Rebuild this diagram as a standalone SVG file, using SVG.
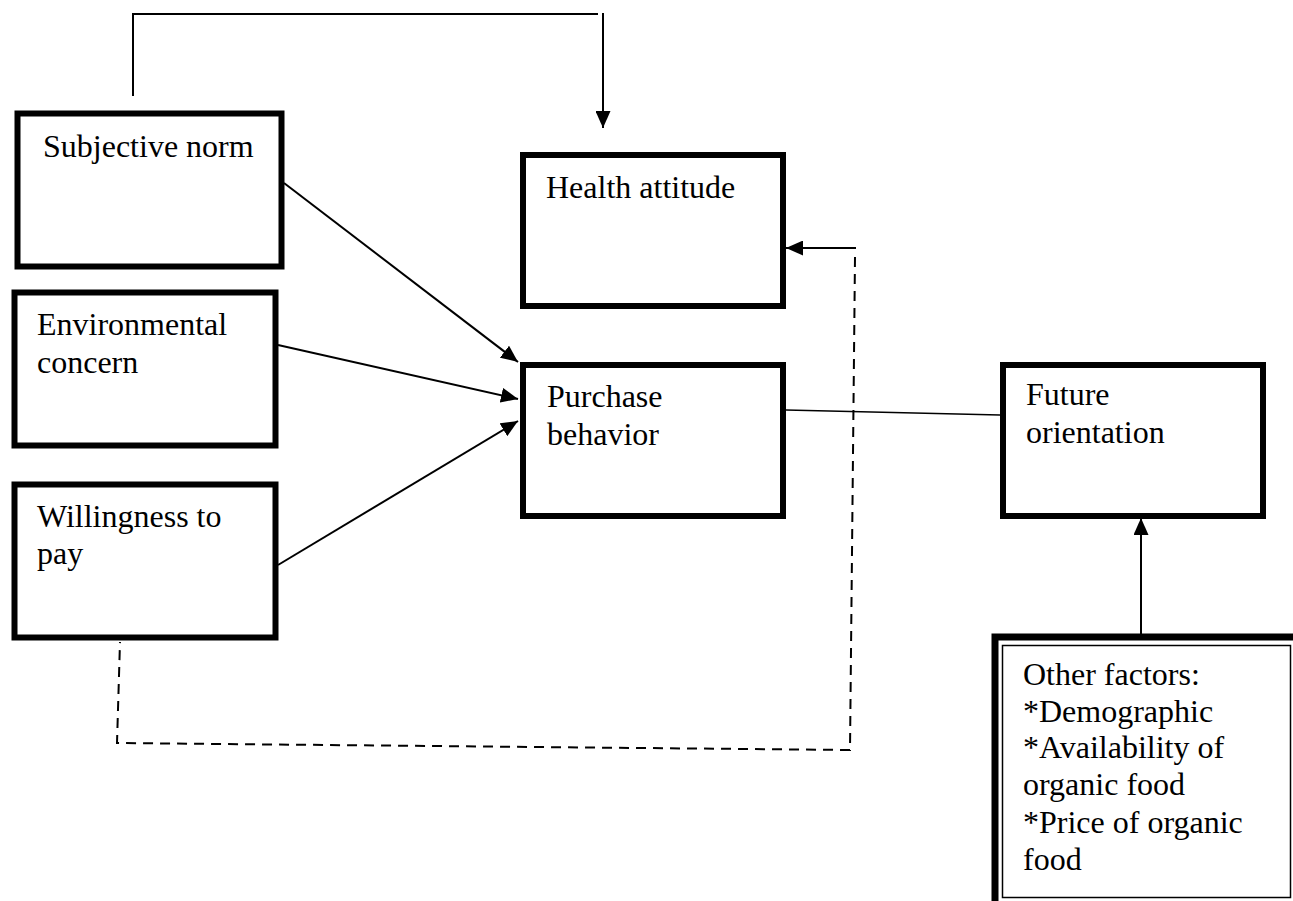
<svg xmlns="http://www.w3.org/2000/svg" width="1293" height="901" viewBox="0 0 1293 901">
<style>
.box{fill:#fff;stroke:#000;stroke-width:6}
.t{font-family:"Liberation Serif","Times New Roman",serif;font-size:32px;fill:#000}
.c{fill:none;stroke:#000;stroke-width:2}
.d{fill:none;stroke:#000;stroke-width:2;stroke-dasharray:10 7}
</style>
<defs>
<marker id="ah" markerUnits="userSpaceOnUse" markerWidth="17" markerHeight="15" refX="17" refY="7.5" orient="auto">
<path d="M0,0 L17,7.5 L0,15 z" fill="#000"/>
</marker>
</defs>
<rect width="1293" height="901" fill="#fff"/>
<g id="n-subjective">
<rect class="box" x="17.5" y="113.5" width="264" height="153"/>
<text class="t" x="43" y="157">Subjective norm</text>
</g>
<g id="n-health">
<rect class="box" x="523" y="155" width="260" height="151"/>
<text class="t" x="546" y="198">Health attitude</text>
</g>
<g id="n-env">
<rect class="box" x="14.5" y="292.5" width="261" height="153"/>
<text class="t" x="37" y="335">Environmental</text>
<text class="t" x="37" y="373">concern</text>
</g>
<g id="n-willing">
<rect class="box" x="14.5" y="484.5" width="261" height="153"/>
<text class="t" x="37" y="527">Willingness to</text>
<text class="t" x="37" y="564">pay</text>
</g>
<g id="n-purchase">
<rect class="box" x="523" y="365" width="260" height="151"/>
<text class="t" x="547" y="407">Purchase</text>
<text class="t" x="547" y="445">behavior</text>
</g>
<g id="n-future">
<rect class="box" x="1003" y="365" width="260" height="151"/>
<text class="t" x="1026" y="405">Future</text>
<text class="t" x="1026" y="443">orientation</text>
</g>
<g id="n-other">
<path d="M995,901 V637 H1293" fill="none" stroke="#000" stroke-width="7"/>
<rect x="1002.5" y="645.5" width="288" height="252" fill="#fff" stroke="#000" stroke-width="1.5"/>
<text class="t" x="1023" y="685">Other factors:</text>
<text class="t" x="1023" y="722">*Demographic</text>
<text class="t" x="1023" y="758">*Availability of</text>
<text class="t" x="1023" y="795">organic food</text>
<text class="t" x="1023" y="833">*Price of organic</text>
<text class="t" x="1023" y="870">food</text>
</g>
<g id="connectors">
<polyline class="c" points="133,96 133,14 598,14"/>
<line class="c" x1="603" y1="13" x2="603" y2="128" marker-end="url(#ah)"/>
<line class="c" x1="284" y1="183" x2="518" y2="362" marker-end="url(#ah)"/>
<line class="c" x1="278" y1="345" x2="518" y2="399" marker-end="url(#ah)"/>
<line class="c" x1="278" y1="565" x2="518" y2="421" marker-end="url(#ah)"/>
<line class="c" x1="856" y1="248" x2="786" y2="248" marker-end="url(#ah)"/>
<polyline class="d" points="855,257 850,750 117,743 120,642"/>
<line x1="786" y1="410" x2="1000" y2="415" stroke="#000" stroke-width="1.5"/>
<line class="c" x1="1141" y1="634" x2="1141" y2="518" marker-end="url(#ah)"/>
</g>
</svg>
